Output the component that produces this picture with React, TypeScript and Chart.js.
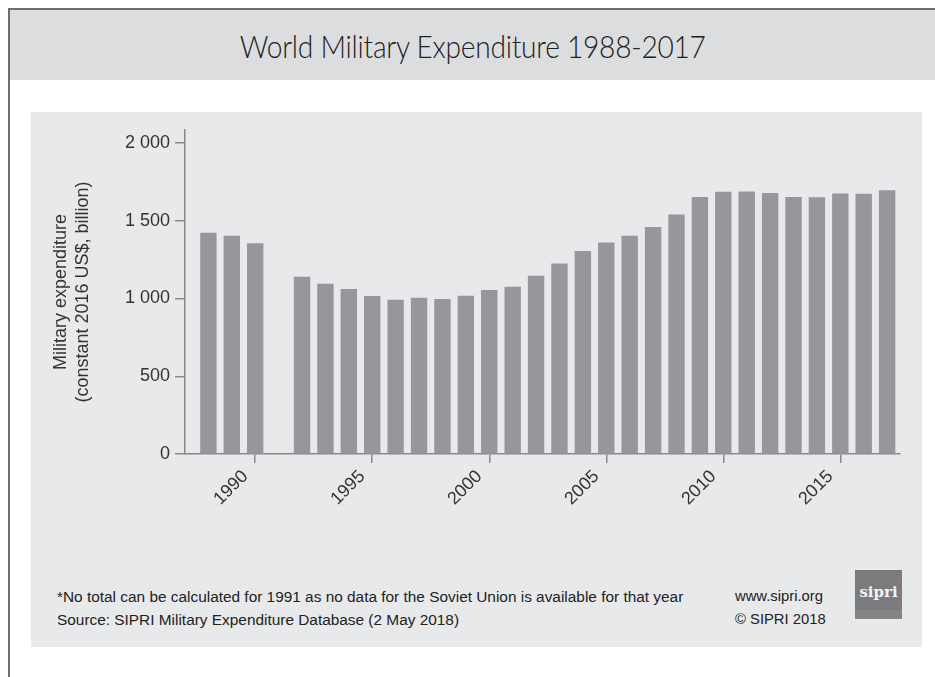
import React, { useEffect, useRef } from "react";
import { Chart, registerables } from "chart.js";

Chart.register(...registerables);

const years = [1988, 1989, 1990, 1992, 1993, 1994, 1995, 1996, 1997, 1998, 1999, 2000, 2001, 2002, 2003, 2004, 2005, 2006, 2007, 2008, 2009, 2010, 2011, 2012, 2013, 2014, 2015, 2016, 2017];
const expenditure = [1423, 1404, 1355, 1140, 1095, 1061, 1016, 992, 1005, 997, 1018, 1055, 1076, 1147, 1226, 1305, 1361, 1404, 1460, 1541, 1653, 1687, 1689, 1678, 1653, 1651, 1676, 1674, 1696];
const xTickYears = [1990, 1995, 2000, 2005, 2010, 2015];
const yTickValues = [0, 500, 1000, 1500, 2000];

const titleText = "World Military Expenditure 1988-2017";
const yTitleLines = ["Military expenditure", "(constant 2016 US$, billion)"];
const footnote = "*No total can be calculated for 1991 as no data for the Soviet Union is available for that year";
const sourceText = "Source: SIPRI Military Expenditure Database (2 May 2018)";
const siteText = "www.sipri.org";
const copyrightText = "© SIPRI 2018";

const fmtY = (v: number) => {
  if (v >= 1000) {
    const th = Math.floor(v / 1000);
    const rest = String(v % 1000).padStart(3, "0");
    return th + "\u00a0" + rest;
  }
  return String(v);
};

export default function App() {
  const ref = useRef<HTMLCanvasElement | null>(null);

  useEffect(() => {
    if (!ref.current) return;
    const axisColor = "#8a8a8c";
    const textColor = "#333333";
    const font = { family: "'Liberation Sans', Arial, sans-serif", size: 18 };
    const chart = new Chart(ref.current, {
      type: "bar",
      data: {
        datasets: [
          {
            data: years.map((y, i) => ({ x: y, y: expenditure[i] })),
            backgroundColor: "#96979b",
            borderWidth: 0,
            categoryPercentage: 1,
            barPercentage: 0.7,
          },
        ],
      },
      options: {
        animation: false,
        responsive: false,
        layout: { padding: { top: 18, right: 22, left: 0, bottom: 0 } },
        plugins: { legend: { display: false }, tooltip: { enabled: false }, title: { display: false } },
        scales: {
          x: {
            type: "linear",
            min: 1987,
            max: 2017.55,
            offset: false,
            grid: { offset: false, drawOnChartArea: false, drawTicks: true, tickLength: 9, tickColor: axisColor, lineWidth: 1.5 },
            border: { display: true, color: axisColor, width: 1.5 },
            afterBuildTicks: (scale: any) => {
              scale.ticks = xTickYears.map((value) => ({ value }));
            },
            afterFit: (scale: any) => {
              scale.height = 106;
            },
            ticks: {
              autoSkip: false,
              minRotation: 45,
              maxRotation: 45,
              padding: 3,
              labelOffset: -10,
              color: textColor,
              font,
              callback: (v: any) => String(v),
            },
          },
          y: {
            type: "linear",
            min: 0,
            max: 2084,
            grid: { drawOnChartArea: false, drawTicks: true, tickLength: 10, tickColor: axisColor, lineWidth: 1.5 },
            border: { display: true, color: axisColor, width: 1.5 },
            afterBuildTicks: (scale: any) => {
              scale.ticks = yTickValues.map((value) => ({ value }));
            },
            afterFit: (scale: any) => {
              scale.width = 154;
            },
            ticks: {
              padding: 5,
              color: textColor,
              font,
              callback: (v: any) => fmtY(Number(v)),
            },
            title: {
              display: true,
              text: yTitleLines,
              color: textColor,
              font: { ...font, lineHeight: 1.17 },
              padding: { top: 20, bottom: 0 },
            },
          },
        },
      },
    } as any);
    return () => chart.destroy();
  }, []);

  const footFont = "'Liberation Sans', Arial, sans-serif";

  return (
    <div style={{ position: "absolute", left: 0, top: 0, width: 935, height: 677, background: "#ffffff", overflow: "hidden" }}>
      {/* frame borders */}
      <div style={{ position: "absolute", left: 8, top: 8, width: 927, height: 2, background: "#6e6e6e" }} />
      <div style={{ position: "absolute", left: 8, top: 8, width: 2, height: 669, background: "#6e6e6e" }} />
      {/* title band */}
      <div
        style={{
          position: "absolute",
          left: 10,
          top: 10,
          width: 925,
          height: 70,
          background: "#dcdddf",
          display: "flex",
          alignItems: "center",
          justifyContent: "center",
        }}
      >
        <span
          style={{
            display: "inline-block",
            fontFamily: "Lato, 'Open Sans', sans-serif",
            fontWeight: 300,
            fontSize: 32,
            color: "#222",
            letterSpacing: -0.3,
            transform: "scaleX(0.88)",
            whiteSpace: "nowrap",
          }}
        >
          {titleText}
        </span>
      </div>
      {/* chart panel */}
      <div style={{ position: "absolute", left: 31, top: 112, width: 891, height: 535, background: "#e8e9eb" }} />
      <canvas ref={ref} width={891} height={448} style={{ position: "absolute", left: 31, top: 112, width: 891, height: 448 }} />
      {/* footer */}
      <div style={{ position: "absolute", left: 57, top: 585, fontFamily: footFont, fontSize: 15.4, color: "#222", whiteSpace: "nowrap", lineHeight: "23px" }}>
        <div>{footnote}</div>
        <div>{sourceText}</div>
      </div>
      <div style={{ position: "absolute", left: 735, top: 585, fontFamily: footFont, fontSize: 14.8, color: "#222", whiteSpace: "nowrap", lineHeight: "23px" }}>
        <div>{siteText}</div>
        <div>{copyrightText}</div>
      </div>
      <div style={{ position: "absolute", left: 855, top: 570, width: 47, height: 49, background: "#7b7b7d" }}>
        <div style={{ position: "absolute", left: 0, top: 13, width: 47, textAlign: "center", fontFamily: "'DejaVu Serif', 'Liberation Serif', serif", fontWeight: 700, fontSize: 15, color: "#f2f2f2" }}>sipri</div>
        <div style={{ position: "absolute", left: 0, bottom: 0, width: 47, height: 9, background: "#858587" }} />
      </div>
    </div>
  );
}
